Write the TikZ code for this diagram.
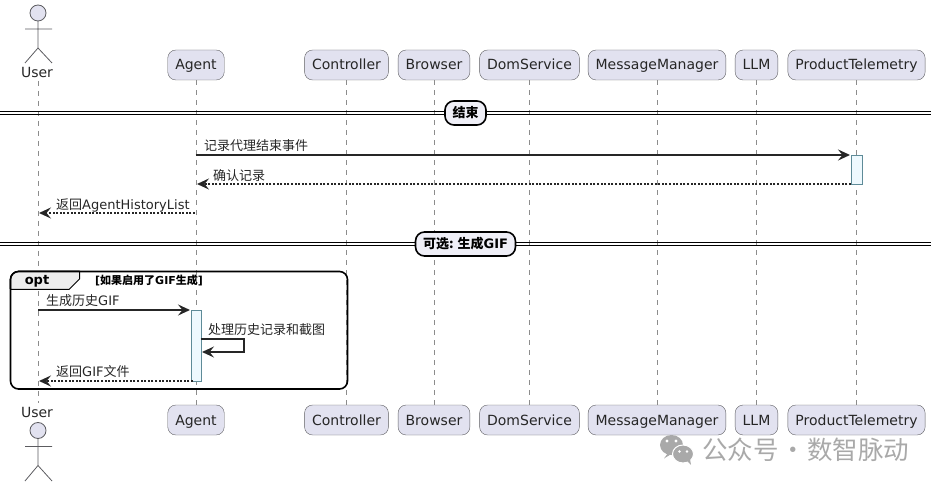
\documentclass[tikz,border=0pt]{standalone}
\usepackage{fontspec}
\setmainfont{DejaVu Sans}
\newfontfamily\cjk{Noto Sans CJK SC}
\usetikzlibrary{arrows.meta}
\definecolor{partfill}{HTML}{E2E2F0}
\definecolor{partline}{HTML}{5C5C60}
\definecolor{actfill}{HTML}{EEF9FE}
\definecolor{actline}{HTML}{5E8B98}
\definecolor{markgray}{HTML}{A9A9A9}
\newcommand{\zh}[1]{{\cjk #1}}
\tikzset{
  part/.style={draw=partline,fill=partfill,rounded corners=8pt,minimum height=30pt,inner xsep=7.5pt,inner ysep=0pt,text height=12pt,text depth=2pt,text=black!85,font=\fontsize{14}{16}\selectfont},
  actorname/.style={inner sep=0pt,text=black!85,font=\fontsize{14}{16}\selectfont},
  actorline/.style={draw=partline,line width=0.8pt},
  lifeline/.style={draw=black!45,line width=0.7pt,dash pattern=on 5pt off 5pt},
  msg/.style={draw=black!85,line width=2pt,-{Stealth[length=12pt,width=11pt,inset=4.5pt]}},
  reply/.style={msg,dash pattern=on 2pt off 1.6pt},
  msgtext/.style={anchor=west,inner sep=0pt,text=black!85,font=\fontsize{13}{15}\selectfont},
  activation/.style={draw=actline,fill=actfill,line width=0.8pt},
  divider/.style={draw=black,line width=1.1pt},
  divlabel/.style={draw=black,fill=partfill!55,line width=1.6pt,rounded corners=9pt,minimum height=24pt,inner xsep=7.5pt,inner ysep=0pt,font=\fontsize{13}{15}\selectfont\bfseries},
  watermark/.style={anchor=west,inner sep=0pt,text=markgray,font=\fontsize{25.5}{27}\selectfont}
}
\begin{document}
\begin{tikzpicture}[x=1pt,y=-1pt]
\useasboundingbox (0,0) rectangle (937,486);

\node[actorname] (userTop) at (37,72.5) {User};
\node[actorname] (userBot) at (37,412.5) {User};
\node[part] (agentTop) at (196,65) {Agent};
\node[part] (agentBot) at (196,420) {Agent};
\node[part] (ctrlTop) at (346.5,65) {Controller};
\node[part] (ctrlBot) at (346.5,420) {Controller};
\node[part] (browserTop) at (434,65) {Browser};
\node[part] (browserBot) at (434,420) {Browser};
\node[part] (domTop) at (529.5,65) {DomService};
\node[part] (domBot) at (529.5,420) {DomService};
\node[part] (mmTop) at (657,65) {MessageManager};
\node[part] (mmBot) at (657,420) {MessageManager};
\node[part] (llmTop) at (756.5,65) {LLM};
\node[part] (llmBot) at (756.5,420) {LLM};
\node[part] (ptTop) at (856.5,65) {ProductTelemetry};
\node[part] (ptBot) at (856.5,420) {ProductTelemetry};

\coordinate (userLifeTop) at (38,81);
\coordinate (userLifeBot) at (38,403);
\draw[lifeline] (userLifeTop) -- (userLifeBot);
\draw[lifeline] (agentTop.south) -- (agentBot.north);
\draw[lifeline] (ctrlTop.south) -- (ctrlBot.north);
\draw[lifeline] (browserTop.south) -- (browserBot.north);
\draw[lifeline] (domTop.south) -- (domBot.north);
\draw[lifeline] (mmTop.south) -- (mmBot.north);
\draw[lifeline] (llmTop.south) -- (llmBot.north);
\draw[lifeline] (ptTop.south) -- (ptBot.north);

\draw[actorline,fill=partfill] (38,13) circle (8);
\draw[actorline] (38,21) -- (38,48) (25,29) -- (52,29) (25,63) -- (38,48) -- (52,63);
\draw[actorline,fill=partfill] (38,430.5) circle (8);
\draw[actorline] (38,438.5) -- (38,465.5) (25,446.5) -- (52,446.5) (25,481) -- (38,465.5) -- (52,481);

\draw[divider] (0,111.5) -- (931,111.5) (0,114.5) -- (931,114.5);
\node[divlabel] (endLabel) at (465.5,113) {\zh{结束}};
\draw[divider] (0,242.5) -- (931,242.5) (0,245.5) -- (931,245.5);
\node[divlabel] (gifLabel) at (465.5,244) {\zh{可选: 生成}GIF};

\draw[activation] (851,155) rectangle (862,184);
\draw[activation] (191.5,310) rectangle (201.5,381);

\coordinate (logStart) at (195.5,155);
\coordinate (logEnd) at (850,155);
\coordinate (ackStart) at (851,184);
\coordinate (ackEnd) at (197,184);
\coordinate (histStart) at (195,213);
\coordinate (histEnd) at (39,213);
\coordinate (gifStart) at (38,310);
\coordinate (gifEnd) at (190,310);
\coordinate (loopStart) at (200.5,339);
\coordinate (loopEnd) at (202,352);
\coordinate (fileStart) at (193,381);
\coordinate (fileEnd) at (39,381);

\draw[msg] (logStart) -- (logEnd);
\draw[reply] (ackStart) -- (ackEnd);
\draw[reply] (histStart) -- (histEnd);
\draw[msg] (gifStart) -- (gifEnd);
\draw[msg] (loopStart) -- (244,339) -- (244,352) -- (loopEnd);
\draw[reply] (fileStart) -- (fileEnd);

\node[msgtext] (logText) at (204,145.5) {\zh{记录代理结束事件}};
\node[msgtext] (ackText) at (213,175.5) {\zh{确认记录}};
\node[msgtext] (histText) at (56,205) {\zh{返回}AgentHistoryList};
\node[msgtext] (gifText) at (46,301) {\zh{生成历史}GIF};
\node[msgtext] (loopText) at (208,329.5) {\zh{处理历史记录和截图}};
\node[msgtext] (fileText) at (56,371.5) {\zh{返回}GIF\zh{文件}};

\draw[line width=1.6pt,rounded corners=8pt] (10.5,271.5) rectangle (347.5,389);
\draw[line width=1pt,fill=black!7] (10.5,289.5) -- (10.5,279.5) [rounded corners=8pt] -- (10.5,271.5) [sharp corners] -- (79.5,271.5) -- (79.5,279) -- (69,289.5) -- cycle;
\draw[line width=1.6pt,rounded corners=8pt] (10.5,289) -- (10.5,271.5) -- (79.5,271.5);
\node[inner sep=0pt,font=\fontsize{13}{15}\selectfont\bfseries] (optTab) at (37,281) {opt};
\node[msgtext,text=black,font=\fontsize{11}{13}\selectfont\bfseries] (optGuard) at (95,280.5) {[\zh{如果启用了}GIF\zh{生成}]};

\fill[markgray] (671.5,445) ellipse (11.5 and 10);
\fill[markgray] (668,453) -- (664,458.5) -- (673,453) -- cycle;
\fill[white] (667,441) circle (1.6) (676,441) circle (1.6);
\fill[markgray,draw=white,line width=1pt] (683,454) ellipse (10.5 and 9);
\fill[markgray] (687,461) -- (691,465) -- (690,459) -- cycle;
\fill[white] (679.5,451.5) circle (1.4) (687,451.5) circle (1.4);
\node[watermark] (markText) at (702,450) {\zh{公众号}\hspace{1.5pt}\zh{·}\hspace{1.5pt}\zh{数智脉动}};
\end{tikzpicture}
\end{document}
